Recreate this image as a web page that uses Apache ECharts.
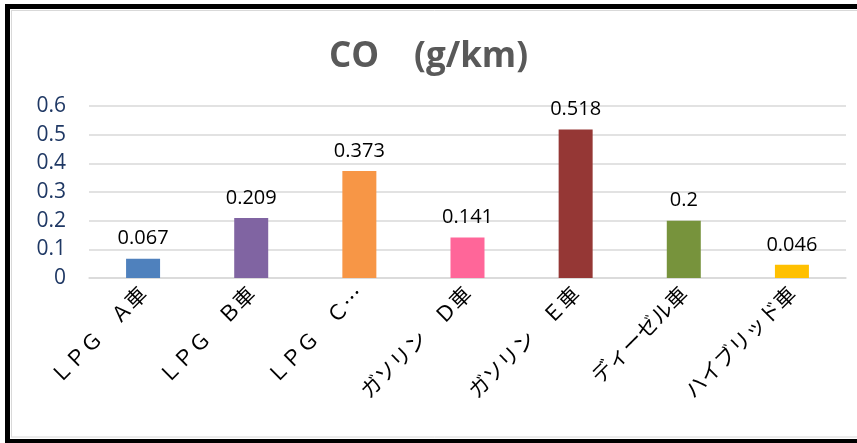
<!DOCTYPE html>
<html>
<head>
<meta charset="utf-8">
<script src="https://cdn.jsdelivr.net/npm/echarts@6/dist/echarts.min.js"></script>
<style>
html,body{margin:0;padding:0;background:#fff;overflow:hidden;}
#chart{width:857px;height:443px;}
</style>
</head>
<body>
<div id="chart"></div>
<script>
const categories = ['ＬＰＧ　Ａ車','ＬＰＧ　Ｂ車','ＬＰＧ　Ｃ車','ガソリン　Ｄ車','ガソリン　Ｅ車','ディーゼル車','ハイブリッド車'];
const tickLabels = ['ＬＰＧ　Ａ車','ＬＰＧ　Ｂ車','ＬＰＧ　Ｃ…','ガソリン　Ｄ車','ガソリン　Ｅ車','ディーゼル車','ハイブリッド車'];
const coValues = [0.067, 0.209, 0.373, 0.141, 0.518, 0.2, 0.046];
const yTicks = [0, 0.1, 0.2, 0.3, 0.4, 0.5, 0.6];
const barColors = ['#4F81BD','#8064A2','#F79646','#FF6699','#953735','#77933C','#FFC000'];

const chart = echarts.init(document.getElementById('chart'), null, {renderer:'canvas'});
function line(x1, y1, x2, y2, color, w, z) {
  return {type: 'line', silent: true, z: z, shape: {x1: x1, y1: y1, x2: x2, y2: y2}, style: {stroke: color, lineWidth: w}};
}
chart.setOption({
  animation: false,
  backgroundColor: '#fff',
  title: {
    text: 'CO　(g/km)',
    left: 'center',
    top: 35,
    textStyle: {fontFamily: 'Open Sans', fontWeight: 'bold', fontSize: 35, color: '#595959'}
  },
  grid: {left: 89, right: 11, top: 106, bottom: 165, containLabel: false},
  xAxis: {
    type: 'category',
    data: categories,
    axisLine: {show: true, lineStyle: {color: '#D9D9D9', width: 1.5}},
    axisTick: {show: false},
    axisLabel: {
      rotate: 45,
      interval: 0,
      margin: 12,
      fontSize: 21,
      color: '#000',
      fontFamily: 'Noto Sans CJK JP',
      formatter: (v, i) => tickLabels[i]
    }
  },
  yAxis: {
    type: 'value',
    min: yTicks[0],
    max: yTicks[yTicks.length - 1],
    interval: 0.1,
    axisLine: {show: false},
    axisTick: {show: false},
    splitLine: {lineStyle: {color: '#D9D9D9', width: 1.5}},
    axisLabel: {
      margin: 23,
      fontSize: 21,
      color: '#1F3864',
      fontFamily: 'Open Sans',
      formatter: v => String(Math.round(v * 10) / 10)
    }
  },
  series: [{
    type: 'bar',
    data: coValues,
    barWidth: 34,
    itemStyle: {color: p => barColors[p.dataIndex]},
    label: {
      show: true,
      position: 'top',
      distance: 10,
      fontSize: 20,
      color: '#000',
      fontFamily: 'Open Sans',
      formatter: p => String(p.value)
    }
  }],
  graphic: [
    line(11, 10.5, 870, 10.5, '#D9D9D9', 1, 100),
    line(11.5, 10, 11.5, 437, '#D9D9D9', 1, 100),
    line(11, 437, 870, 437, '#D9D9D9', 1, 100),
    line(5, 6.5, 870, 6.5, '#000', 5, 101),
    line(7.5, 4, 7.5, 450, '#000', 5, 101),
    line(5, 441.5, 870, 441.5, '#000', 5, 101)
  ]
});
</script>
</body>
</html>
